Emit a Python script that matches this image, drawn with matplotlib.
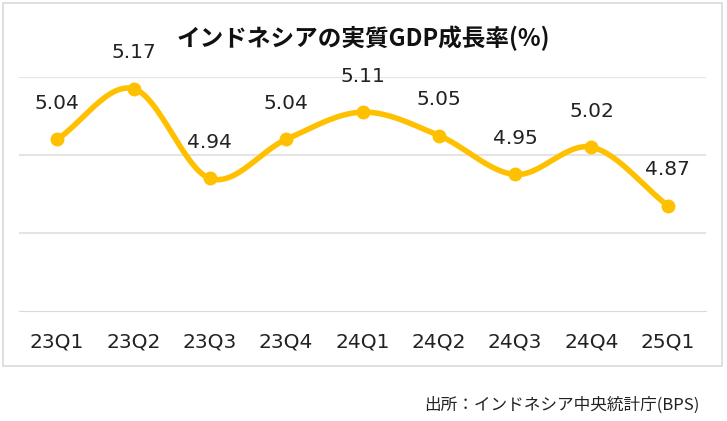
import numpy as np
import matplotlib.pyplot as plt
from matplotlib.patches import Rectangle

plt.rcParams['font.family'] = ['DejaVu Sans', 'Noto Sans CJK JP']

quarters = ['23Q1', '23Q2', '23Q3', '23Q4', '24Q1', '24Q2', '24Q3', '24Q4', '25Q1']
growth = [5.04, 5.17, 4.94, 5.04, 5.11, 5.05, 4.95, 5.02, 4.87]

def smooth(x, y, n=30):
    # Catmull-Rom interpolation for a smoothed line
    x = np.asarray(x, float); y = np.asarray(y, float)
    px = np.concatenate([[2*x[0]-x[1]], x, [2*x[-1]-x[-2]]])
    py = np.concatenate([[2*y[0]-y[1]], y, [2*y[-1]-y[-2]]])
    xs, ys = [], []
    for i in range(1, len(px)-2):
        t = np.linspace(0, 1, n)
        for p, out in ((px, xs), (py, ys)):
            p0, p1, p2, p3 = p[i-1], p[i], p[i+1], p[i+2]
            out.append(0.5*((2*p1) + (-p0+p2)*t + (2*p0-5*p1+4*p2-p3)*t**2 + (-p0+3*p1-3*p2+p3)*t**3))
    return np.concatenate(xs), np.concatenate(ys)

fig = plt.figure(figsize=(7.27, 4.21), dpi=100)
fig.patches.append(Rectangle((3/727, 1-366/421), 719/727, 363/421, transform=fig.transFigure,
                             fill=False, edgecolor='#d9d9d9', linewidth=1.2))
ax = fig.add_axes([19/727, 1-311/421, 687/727, 234/421])

x = np.arange(len(quarters))
sx, sy = smooth(x, growth)
ax.plot(sx, sy, color='#ffc000', linewidth=4, solid_capstyle='round')
ax.plot(x, growth, 'o', color='#ffc000', markersize=9)
for xi, v in zip(x, growth):
    ax.text(xi, v + 0.068, f'{v:.2f}', ha='center', va='bottom', fontsize=14.5, color='#222222')

ax.set_xlim(-0.5, len(quarters) - 0.5)
ax.set_ylim(4.6, 5.2)
ax.set_yticks([4.8, 5.0, 5.2])
ax.yaxis.grid(True, color='#e4e4e4', linewidth=1.5)
ax.set_yticklabels([])
ax.tick_params(left=False, bottom=False, labelsize=14.5, pad=12)
ax.set_xticks(x)
ax.set_xticklabels(quarters, color='#222222')
for s in ['top', 'left', 'right']:
    ax.spines[s].set_visible(False)
ax.spines['bottom'].set_color('#d9d9d9')

fig.text(0.5, 1-38/421, 'インドネシアの実質GDP成長率(%)', ha='center', va='center',
         fontsize=17, fontweight='bold', color='#111111', family='Noto Sans CJK JP')
fig.text(700/727, 1-405/421, '出所：インドネシア中央統計庁(BPS)', ha='right', va='center',
         fontsize=12, color='#222222', family='Noto Sans CJK JP')

fig.savefig('out.png', dpi=100)
